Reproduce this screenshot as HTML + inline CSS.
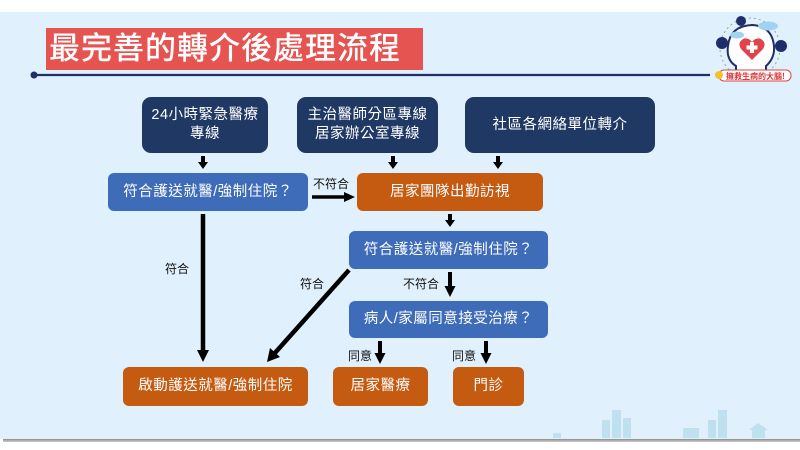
<!DOCTYPE html>
<html><head><meta charset="utf-8"><style>
*{margin:0;padding:0;box-sizing:border-box}
body{width:800px;height:450px;background:#fff;position:relative;overflow:hidden;font-family:"Liberation Sans","Noto Sans CJK TC",sans-serif}
.bg{position:absolute;left:0;top:12px;width:800px;height:427px;background:#e0f0fc}
.shadow{position:absolute;left:3px;top:439px;width:797px;height:3px;background:linear-gradient(#8a8a8a,#cfcfcf)}
.title{position:absolute;left:46px;top:28px;width:377px;height:42px;background:#e55451;color:#fff;font-size:31px;line-height:42px;padding-left:3px;letter-spacing:1px;font-weight:500;white-space:nowrap}
.box{position:absolute;color:#fff;display:flex;align-items:center;justify-content:center;text-align:center;border-radius:6px;font-size:14.5px;line-height:19px;letter-spacing:0.5px}
.navy{background:#203864;border-radius:9px}
.blue{background:#3e6cb9}
.orange{background:#c55a11}
.lbl{position:absolute;font-size:12px;color:#111;white-space:nowrap}
svg{position:absolute;left:0;top:0}
</style></head><body>
<div class="bg"></div>
<div class="shadow"></div>
<div class="title">最完善的轉介後處理流程</div>

<svg width="800" height="450">
  <circle cx="34" cy="75" r="3.5" fill="#1f2d6b"/>
  <line x1="34" y1="75" x2="710" y2="75" stroke="#1f2d6b" stroke-width="2.2"/>
  <!-- logo -->
  <circle cx="750" cy="48" r="30" fill="none" stroke="#8aa" stroke-width="1" stroke-dasharray="2,3"/>
  <path d="M736 78 L736 66 Q726 60 728 46 Q730 26 752 25 Q772 26 774 46 Q775 58 766 66 L766 78 Z" fill="#fff" stroke="#1f2d6b" stroke-width="2"/>
  <path d="M752 60 L741 49 Q737 43 743 39 Q748 37 752 42 Q756 37 761 39 Q767 43 763 49 Z" fill="#e2434b"/>
  <rect x="750" y="42" width="4" height="11" fill="#fff"/><rect x="746.5" y="45.5" width="11" height="4" fill="#fff"/>
  <circle cx="722" cy="43" r="6" fill="#1f2d6b"/>
  <circle cx="741" cy="21" r="5" fill="#1f2d6b"/>
  <circle cx="781" cy="46" r="6" fill="#1f2d6b"/>
  <ellipse cx="737" cy="35" rx="7" ry="3.5" fill="#9fd3ee"/>
  <ellipse cx="768" cy="26" rx="10" ry="4.5" fill="#9fd3ee"/>
  <rect x="719" y="70" width="72" height="11" rx="5" fill="#fff" stroke="#d44" stroke-width="1"/>
  <text x="726" y="79" font-size="8" fill="#d33" font-family="Noto Sans CJK TC,sans-serif" font-weight="bold">擁救生病的大腦!</text>
  <circle cx="719" cy="75" r="4" fill="#f2c230"/>
  <!-- buildings -->
  <g fill="#bfe0ee">
    <rect x="602" y="420" width="8" height="18"/><rect x="612" y="410" width="9" height="28"/><rect x="623" y="418" width="8" height="20"/>
    <rect x="553" y="433" width="8" height="5"/>
    <rect x="683" y="428" width="16" height="10"/><rect x="708" y="420" width="8" height="18"/><rect x="718" y="410" width="9" height="28"/>
    <path d="M749 430 L758 423 L768 430 L765 430 L765 438 L752 438 L752 430 Z"/>
  </g>
  <!-- arrows -->
  <g fill="#000" stroke="#000">
    <line x1="203" y1="156" x2="203" y2="163" stroke-width="4"/><path d="M198 162 L208 162 L203 169 Z" stroke="none"/>
    <line x1="393" y1="156" x2="393" y2="163" stroke-width="4"/><path d="M388 162 L398 162 L393 169 Z" stroke="none"/>
    <line x1="498" y1="156" x2="498" y2="163" stroke-width="4"/><path d="M493 162 L503 162 L498 169 Z" stroke="none"/>
    <line x1="450" y1="214" x2="450" y2="221" stroke-width="4"/><path d="M445 220 L455 220 L450 227 Z" stroke="none"/>
    <line x1="312" y1="197" x2="345" y2="197" stroke-width="3.5"/><path d="M344 192 L355 197 L344 202 Z" stroke="none"/>
    <line x1="203" y1="214" x2="203" y2="352" stroke-width="4.5"/><path d="M197 350 L209 350 L203 362 Z" stroke="none"/>
    <line x1="450" y1="272" x2="450" y2="288" stroke-width="4"/><path d="M444.5 286 L455.5 286 L450 297 Z" stroke="none"/>
    <line x1="349" y1="270" x2="274" y2="354" stroke-width="4.5"/><path d="M267 362 L270 348 L280 357 Z" stroke="none"/>
    <line x1="380" y1="341" x2="380" y2="355" stroke-width="4"/><path d="M374.5 353 L385.5 353 L380 364 Z" stroke="none"/>
    <line x1="486" y1="341" x2="486" y2="355" stroke-width="4"/><path d="M480.5 353 L491.5 353 L486 364 Z" stroke="none"/>
  </g>
</svg>

<div class="box navy" style="left:142px;top:97px;width:126px;height:56px">24小時緊急醫療<br>專線</div>
<div class="box navy" style="left:297px;top:97px;width:141px;height:56px">主治醫師分區專線<br>居家辦公室專線</div>
<div class="box navy" style="left:465px;top:97px;width:190px;height:56px">社區各網絡單位轉介</div>

<div class="box blue" style="left:108px;top:173px;width:200px;height:38px">符合護送就醫/強制住院？</div>
<div class="box orange" style="left:357px;top:173px;width:186px;height:38px">居家團隊出勤訪視</div>
<div class="box blue" style="left:349px;top:231px;width:199px;height:38px">符合護送就醫/強制住院？</div>
<div class="box blue" style="left:349px;top:301px;width:199px;height:37px">病人/家屬同意接受治療？</div>

<div class="box orange" style="left:123px;top:367px;width:185px;height:39px">啟動護送就醫/強制住院</div>
<div class="box orange" style="left:333px;top:367px;width:95px;height:39px">居家醫療</div>
<div class="box orange" style="left:453px;top:367px;width:71px;height:39px">門診</div>

<div class="lbl" style="left:313px;top:175px">不符合</div>
<div class="lbl" style="left:165px;top:260px">符合</div>
<div class="lbl" style="left:300px;top:275px">符合</div>
<div class="lbl" style="left:403px;top:275px">不符合</div>
<div class="lbl" style="left:348px;top:347px">同意</div>
<div class="lbl" style="left:452px;top:347px">同意</div>
</body></html>
